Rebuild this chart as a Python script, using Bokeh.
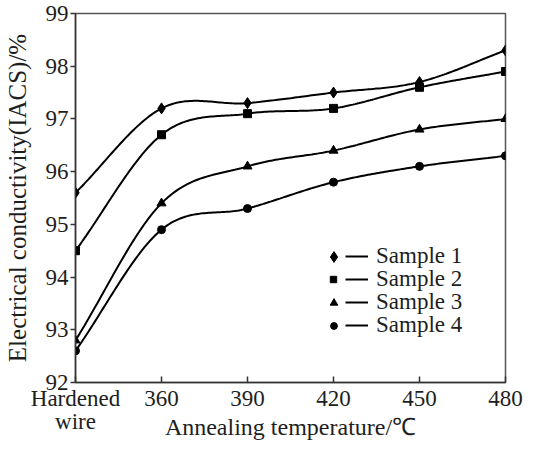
import numpy as np
from bokeh.plotting import figure
from bokeh.models import FixedTicker, Legend, LegendItem, Range1d
from bokeh.embed import file_html
from bokeh.resources import INLINE

# ---- data ----
categories = ["Hardened\nwire", "360", "390", "420", "450", "480"]
sample1 = [95.6, 97.2, 97.3, 97.5, 97.7, 98.3]
sample2 = [94.5, 96.7, 97.1, 97.2, 97.6, 97.9]
sample3 = [92.8, 95.4, 96.1, 96.4, 96.8, 97.0]
sample4 = [92.6, 94.9, 95.3, 95.8, 96.1, 96.3]
series_names = ["Sample 1", "Sample 2", "Sample 3", "Sample 4"]
y_ticks = [92, 93, 94, 95, 96, 97, 98, 99]

FONT = "Liberation Serif"
TXT = "#1e1e1e"


def smooth_curve(xs, ys, n=40):
    """Smooth (cubic Hermite) drawing path through the data points."""
    xs = np.asarray(xs, float)
    ys = np.asarray(ys, float)
    m = np.zeros_like(ys)
    m[1:-1] = (ys[2:] - ys[:-2]) / 2.0
    m[0] = ys[1] - ys[0]
    m[-1] = ys[-1] - ys[-2]
    px, py = [], []
    for i in range(len(xs) - 1):
        t = np.linspace(0, 1, n, endpoint=(i == len(xs) - 2))
        h00 = 2 * t**3 - 3 * t**2 + 1
        h10 = t**3 - 2 * t**2 + t
        h01 = -2 * t**3 + 3 * t**2
        h11 = t**3 - t**2
        py.extend(h00 * ys[i] + h10 * m[i] + h01 * ys[i + 1] + h11 * m[i + 1])
        px.extend(xs[i] + t * (xs[i + 1] - xs[i]))
    return px, py


xpos = list(range(len(categories)))

p = figure(width=523, height=448, output_backend="svg", toolbar_location=None,
           x_range=Range1d(0, 5), y_range=Range1d(92, 99),
           min_border_left=73, min_border_right=18, min_border_top=13,
           min_border_bottom=66)

p.grid.visible = False
p.outline_line_color = "#555555"
p.outline_line_width = 1.5
p.background_fill_color = "white"
p.border_fill_color = "white"

series = [sample1, sample2, sample3, sample4]
markers = ["diamond", "square", "triangle", "circle"]
msizes = [11, 8, 9, 8]

line_rs, mark_rs = [], []
for ys, mk, ms in zip(series, markers, msizes):
    cx, cy = smooth_curve(xpos, ys)
    lr = p.line(cx, cy, line_color="black", line_width=2)
    mr = p.scatter(xpos, ys, marker=mk, size=ms, fill_color="black", line_color="black")
    line_rs.append(lr)
    mark_rs.append(mr)

# axes
xa = p.xaxis[0]
xa.ticker = FixedTicker(ticks=xpos)
xa.major_label_overrides = {i: c for i, c in zip(xpos, categories)}
xa.major_tick_in = 6
xa.major_tick_out = 0
xa.minor_tick_line_color = None
xa.axis_label = "Annealing temperature/℃"
xa.axis_label_standoff = -23
xa.major_label_standoff = 3
xa.major_label_text_line_height = 0.95
xa.axis_label_text_font_size = "24px"

ya = p.yaxis[0]
ya.ticker = FixedTicker(ticks=y_ticks)
ya.major_tick_in = 0
ya.major_tick_out = 5
ya.minor_tick_line_color = None
ya.axis_label = "Electrical conductivity(IACS)/%"
ya.axis_label_standoff = 12
ya.major_label_standoff = 2
ya.axis_label_text_font_size = "25px"

for ax in (xa, ya):
    ax.axis_line_color = "#333333"
    ax.axis_line_width = 1.5
    ax.major_tick_line_color = "#333333"
    ax.major_tick_line_width = 1.5
    ax.major_label_text_font = FONT
    ax.major_label_text_font_size = "23px"
    ax.major_label_text_color = TXT
    ax.axis_label_text_font = FONT
    ax.axis_label_text_font_style = "normal"
    ax.axis_label_text_color = TXT

# legend: each row placed on its own (marker, then line + label)
ROW = 23              # row pitch, px
FIRST_CENTER = 57     # bottom row centre, px above the frame's bottom edge
MARK_X = 258          # marker centre, px from the frame's left edge
LINE_X = 270          # start of the legend line, px from the frame's left edge
ITEM_H = 26           # height of one label row as laid out by the legend
common = dict(spacing=0, padding=0, margin=0,
              border_line_alpha=0, background_fill_alpha=0,
              label_text_font=FONT, label_text_font_size="23px",
              label_text_color=TXT)
mark_boxes = [27, 16, 19, 17]   # legend glyph box sizes -> legend marker sizes
n = len(mark_rs)
for i, (mr, lr, nm, box) in enumerate(zip(mark_rs, line_rs, series_names, mark_boxes)):
    yc = FIRST_CENTER + ROW * (n - 1 - i)
    p.add_layout(Legend(items=[LegendItem(label="", renderers=[mr])],
                        location=(MARK_X - box / 2, yc - box / 2),
                        glyph_width=box, glyph_height=box, label_width=0,
                        label_height=0, label_standoff=0, **common), "center")
    p.add_layout(Legend(items=[LegendItem(label=nm, renderers=[lr])],
                        location=(LINE_X, yc - ITEM_H / 2),
                        glyph_width=23, glyph_height=ITEM_H, label_height=ITEM_H,
                        label_standoff=8, **common), "center")

open("out.html", "w").write(file_html(p, INLINE))
